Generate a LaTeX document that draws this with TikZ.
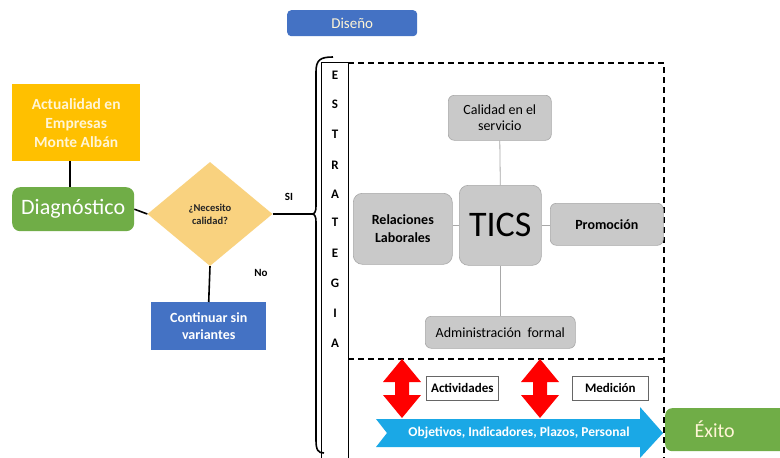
\documentclass[tikz,border=0pt]{standalone}
\usepackage{fontspec}
\setmainfont{Carlito}
\usetikzlibrary{shapes.geometric}
\definecolor{cOrange}{HTML}{FFC000}
\definecolor{cGreen}{HTML}{70AD47}
\definecolor{cBlue}{HTML}{4472C4}
\definecolor{cDiamond}{HTML}{F9D27F}
\definecolor{cGray}{HTML}{C9C9C9}
\definecolor{cGrayB}{HTML}{A8A8A8}
\definecolor{cCyan}{HTML}{1AA8E6}
\definecolor{cPale}{HTML}{FFF5D6}
\tikzset{
  box/.style={rectangle, inner sep=0pt, align=center, anchor=north west},
  graybox/.style={box, rounded corners=6pt, fill=cGray, draw=cGrayB, line width=0.6pt, font=\fontsize{14}{16}\selectfont},
  link/.style={draw=black, line width=1.6pt},
  glink/.style={draw=cGrayB, line width=0.8pt},
  letter/.style={font=\bfseries\fontsize{13}{14}\selectfont},
  dashbox/.style={dashed, dash pattern=on 6pt off 4pt, line width=1.4pt},
  redarrow/.style={fill=red, draw=none},
  label/.style={font=\bfseries\fontsize{11}{12}\selectfont, text=black}
}
\begin{document}
\begin{tikzpicture}[x=1pt,y=-1pt]
\useasboundingbox (0,0) rectangle (780,458);
\fill[white] (0,0) rectangle (780,458);

% Diseño
\node[box, fill=cBlue, rounded corners=4pt, minimum width=130pt, minimum height=26pt, text=cPale, font=\fontsize{15}{17}\selectfont] (dis) at (287,10) {Diseño};

% left flow
\node[box, fill=cOrange, minimum width=128pt, minimum height=77pt, text=cPale, font=\bfseries\fontsize{15.5}{19}\selectfont] (act) at (12,84) {Actualidad en\\Empresas\\Monte Albán};
\node[box, fill=cGreen, rounded corners=8pt, minimum width=122pt, minimum height=44pt, text=white, font=\fontsize{22}{25}\selectfont] (diag) at (12,187) {Diagnóstico};
\node[diamond, fill=cDiamond, minimum width=125pt, minimum height=104pt, inner sep=0pt, aspect=1.2, align=center, font=\bfseries\fontsize{10.5}{13}\selectfont, text=black!85] (dec) at (210,214) {¿Necesito\\calidad?};
\node[box, fill=cBlue, minimum width=115pt, minimum height=48pt, text=white, font=\bfseries\fontsize{14}{17}\selectfont] (cont) at (151,302) {Continuar sin\\variantes};

\draw[link] (act.south -| 70,0) -- (diag.north -| 70,0);
\draw[link] (diag.east) -- (dec.west);
\draw[link] (dec.south) -- (cont.north);
\node[label] (si) at (289,197) {SI};
\node[label] (no) at (261,273) {No};

% brace
\coordinate (tip) at (312,214);
\draw[line width=1.6pt] (333,57) .. controls (320,57) and (316,60) .. (316,72)
  -- (316,206) .. controls (316,211) and (315,214) .. (tip)
  .. controls (315,214) and (316,217) .. (316,222)
  -- (316,440) .. controls (316,450) and (318,453) .. (324,453);
\draw[link] (dec.east) -- (tip);

% ESTRATEGIA column
\draw[line width=0.8pt] (321,458) -- (321,62) -- (348,62) -- (348,458);
\foreach \l/\yy [count=\i] in {E/75,S/104,T/134,R/165,A/194,T/222,E/253,G/283,I/313,A/343}
  \node[letter] (L\i) at (335,\yy) {\l};

% dashed frames
\draw[dashbox] (348,63) -- (664,63) -- (664,458);
\draw[dashbox] (348,359) -- (664,359);

% TICS cluster
\node[graybox, minimum width=82pt, minimum height=80pt, rounded corners=9pt, font=\fontsize{36}{38}\selectfont] (tics) at (459,185) {TICS};
\node[graybox, minimum width=103pt, minimum height=45pt] (cal) at (448,95) {Calidad en el\\servicio};
\node[graybox, minimum width=99pt, minimum height=71pt, rounded corners=9pt, font=\bfseries\fontsize{14}{18}\selectfont] (rel) at (353,193) {Relaciones\\Laborales};
\node[graybox, minimum width=113pt, minimum height=42pt, font=\bfseries\fontsize{14}{16}\selectfont] (pro) at (550,203) {Promoción};
\node[graybox, minimum width=150pt, minimum height=32pt] (adm) at (425,316) {Administración\ \ formal};

\draw[glink] (cal.south) -- (tics.north);
\draw[glink] (tics.south) -- (adm.north);
\draw[glink] (rel.east |- tics.west) -- (tics.west);
\draw[glink] (tics.east) -- (pro.west |- tics.east);

% red double arrows
\foreach \cx/\nm in {402/ra1,540/ra2}{
  \fill[redarrow] (\cx,359) -- (\cx+19,382) -- (\cx+7,382) -- (\cx+7,395) -- (\cx+19,395) -- (\cx,418)
    -- (\cx-19,395) -- (\cx-7,395) -- (\cx-7,382) -- (\cx-19,382) -- cycle;
  \coordinate (\nm) at (\cx,388);
}
\node[box, draw=black!60, line width=0.7pt, minimum width=72pt, minimum height=24pt, font=\bfseries\fontsize{13}{15}\selectfont] (actv) at (426,376) {Actividades};
\node[box, draw=black!60, line width=0.7pt, minimum width=76pt, minimum height=24pt, font=\bfseries\fontsize{13}{15}\selectfont] (med) at (572,376) {Medición};

% blue arrow
\fill[cCyan] (376,419) -- (640,419) -- (640,407) -- (663,433) -- (640,458) -- (640,447) -- (376,447) -- (387,433) -- cycle;
\node[font=\bfseries\fontsize{13.5}{15}\selectfont, text=white] (obj) at (519,433) {Objetivos, Indicadores, Plazos, Personal};

% Exito
\node[box, fill=cGreen, rounded corners=7pt, minimum width=125pt, minimum height=43pt, text=cPale, font=\fontsize{20}{23}\selectfont] (exi) at (665,408) {\hspace*{-26pt}Éxito};
\end{tikzpicture}
\end{document}
